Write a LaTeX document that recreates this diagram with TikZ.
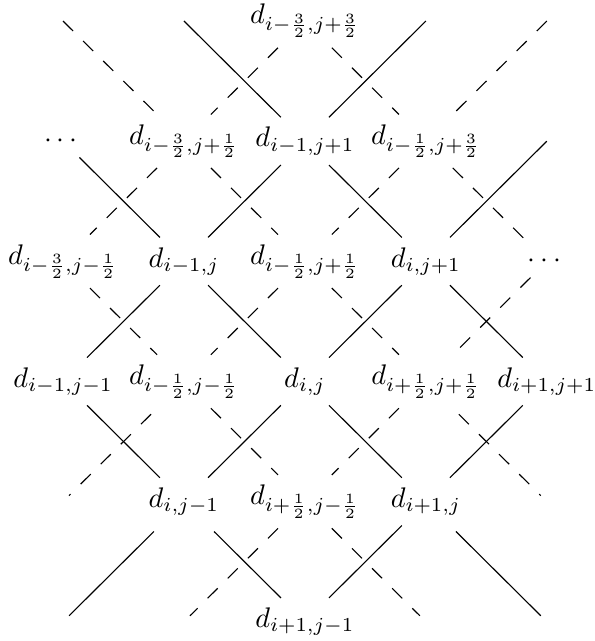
\documentclass[tikz,border=0pt]{standalone}
\usepackage{amsmath,amssymb}
\usepackage{tikz}
\usetikzlibrary{positioning}
\tikzset{
  lab/.style={inner sep=3.33pt},
  gridline/.style={line width=0.4pt,black},
  halfline/.style={line width=0.4pt,black,dash pattern=on 5pt off 5pt},
}

\begin{document}
\begin{tikzpicture}[x=1.5cm,y=1.49cm]
  \useasboundingbox (-2.521,-2.16) rectangle (2.39,3.175);
  % integer points
  \node[lab] (imjp) at (0,2)   {$d_{i-1,j+1}$};
  \node[lab] (imj)  at (-1,1)  {$d_{i-1,j}$};
  \node[lab] (ijp)  at (1,1)   {$d_{i,j+1}$};
  \node[lab] (imjm) at (-2,0)  {$d_{i-1,j-1}$};
  \node[lab] (ij)   at (0,0)   {$d_{i,j}$};
  \node[lab] (ipjp) at (2,0)   {$d_{i+1,j+1}$};
  \node[lab] (ijm)  at (-1,-1) {$d_{i,j-1}$};
  \node[lab] (ipj)  at (1,-1)  {$d_{i+1,j}$};
  \node[lab] (ipjm) at (0,-2)  {$d_{i+1,j-1}$};
  \node[lab] (dotsL) at (-2,2) {$\cdots$};
  % half points
  \node[lab] (hmmpp) at (0,3)  {$d_{i-\frac{3}{2},j+\frac{3}{2}}$};
  \node[lab] (hmmp)  at (-1,2) {$d_{i-\frac{3}{2},j+\frac{1}{2}}$};
  \node[lab] (hmpp)  at (1,2)  {$d_{i-\frac{1}{2},j+\frac{3}{2}}$};
  \node[lab] (hmmm)  at (-2,1) {$d_{i-\frac{3}{2},j-\frac{1}{2}}$};
  \node[lab] (hmp)   at (0,1)  {$d_{i-\frac{1}{2},j+\frac{1}{2}}$};
  \node[lab] (hmm)   at (-1,0) {$d_{i-\frac{1}{2},j-\frac{1}{2}}$};
  \node[lab] (hpp)   at (1,0)  {$d_{i+\frac{1}{2},j+\frac{1}{2}}$};
  \node[lab] (hpm)   at (0,-1) {$d_{i+\frac{1}{2},j-\frac{1}{2}}$};
  \node[lab] (dotsR) at (2,1)  {$\cdots$};
  % loose ends
  \coordinate (sTL) at (-1,3);
  \coordinate (sTR) at (1,3);
  \coordinate (sR)  at (2,2);
  \coordinate (sBL) at (-2,-2);
  \coordinate (sBR) at (2,-2);
  \coordinate (hTL) at (-2,3);
  \coordinate (hTR) at (2,3);
  \coordinate (hBL) at (-2,-1);
  \coordinate (hBR) at (2,-1);
  \coordinate (hBl) at (-1,-2);
  \coordinate (hBr) at (1,-2);

  \draw[gridline,shorten <=3pt,shorten >=3pt] (sTL) -- (imjp) -- (ijp) -- (ipjp) -- (ipj) -- (sBR);
  \draw[gridline,shorten <=3pt,shorten >=3pt] (sTR) -- (imjp) -- (imj) -- (imjm) -- (ijm) -- (sBL);
  \draw[gridline] (dotsL) -- (imj) -- (ij) -- (ipj) -- (ipjm);
  \draw[gridline,shorten <=3pt] (sR) -- (ijp) -- (ij) -- (ijm) -- (ipjm);

  \draw[halfline,shorten <=3pt,shorten >=3pt] (hTL) -- (hmmp) -- (hmp) -- (hpp) -- (hBR);
  \draw[halfline,shorten <=3pt,shorten >=3pt] (hTR) -- (hmpp) -- (hmp) -- (hmm) -- (hBL);
  \draw[halfline,shorten >=3pt] (hmmpp) -- (hmmp) -- (hmmm) -- (hmm) -- (hpm) -- (hBr);
  \draw[halfline,shorten >=3pt] (hmmpp) -- (hmpp) -- (dotsR) -- (hpp) -- (hpm) -- (hBl);
\end{tikzpicture}
\end{document}
